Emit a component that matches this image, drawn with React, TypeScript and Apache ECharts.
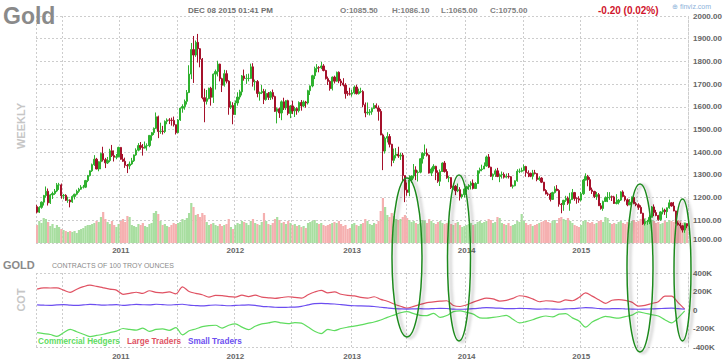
import React, { useEffect, useRef } from "react";
import * as echarts from "echarts";

// ---------- DATA ----------
const START_DATE_UTC = Date.UTC(2010, 3, 12); // first weekly bar (Mon Apr 12 2010)
const FIRST_OPEN = 1160;

// weekly closes Apr 2010 .. Dec 2015
const closes = [
  // 2010
  1136,1157,1180,1209,1228,1177,1212,1218,1229,1256,1256,1208,1210,1188,1189,1181,1205,1215,1228,1237,
  1246,1246,1275,1297,1318,1345,1369,1326,1358,1394,1367,1353,1363,1406,1385,1378,1380,1421,
  // 2011
  1369,1360,1342,1340,1348,1362,1388,1409,1429,1421,1418,1428,1429,1474,1486,1505,1556,1491,1493,1491,
  1536,1542,1541,1540,1521,1486,1542,1594,1601,1624,1663,1744,1852,1828,1884,1856,1810,1640,1624,1636,
  1682,1642,1744,1755,1788,1724,1695,1746,1713,1598,1606,1566,
  // 2012
  1617,1643,1666,1736,1725,1725,1725,1776,1710,1711,1659,1662,1668,1632,1659,1642,1663,1645,1580,1591,
  1573,1622,1595,1627,1571,1604,1582,1592,1583,1619,1604,1621,1617,1671,1692,1737,1769,1773,1772,1780,
  1760,1724,1712,1680,1731,1713,1752,1714,1705,1696,1658,1657,1656,
  // 2013
  1662,1687,1658,1667,1667,1609,1573,1576,1578,1592,1606,1595,1580,1476,1405,1462,1469,1435,1364,1386,
  1392,1383,1387,1297,1234,1223,1278,1295,1322,1310,1312,1371,1395,1396,1387,1308,1326,1338,1310,1272,
  1315,1352,1315,1287,1288,1244,1250,1230,1235,1204,1213,1238,
  // 2014
  1248,1254,1264,1240,1262,1318,1324,1326,1339,1379,1334,1294,1303,1318,1293,1300,1302,1290,1293,1292,
  1250,1252,1274,1316,1316,1320,1337,1310,1307,1294,1309,1306,1280,1286,1268,1231,1216,1215,1192,1222,
  1238,1231,1171,1169,1188,1197,1175,1191,1222,1196,1195,1189,
  // 2015
  1217,1277,1293,1279,1234,1227,1205,1213,1164,1152,1183,1199,1201,1204,1203,1174,1179,1189,1225,1205,
  1190,1168,1180,1201,1173,1168,1157,1131,1085,1094,1094,1113,1159,1134,1121,1103,1137,1145,1138,1155,
  1177,1163,1141,1088,1081,1076,1057,1085.5,1075,
];

const highs = [
  1168,1162,1183,1212,1249,1240,1216,1226,1238,1264,1265,1262,1216,1215,1204,1192,1210,1217,1235,1243,
  1255,1256,1278,1300,1320,1350,1387,1375,1360,1398,1424,1375,1379,1415,1432,1408,1392,1424,
  1423,1392,1376,1348,1359,1375,1390,1417,1440,1445,1436,1447,1439,1475,1489,1509,1575,1561,1530,1516,
  1540,1549,1550,1552,1557,1522,1546,1597,1611,1632,1674,1783,1881,1912,1892,1921,1859,1815,1680,1674,
  1684,1688,1747,1764,1803,1790,1728,1763,1761,1717,1624,1620,
  1628,1664,1675,1740,1764,1744,1746,1790,1792,1720,1718,1667,1696,1679,1677,1665,1669,1676,1649,1597,
  1597,1628,1640,1630,1631,1607,1627,1600,1598,1624,1630,1628,1626,1675,1694,1741,1777,1788,1779,1798,
  1788,1763,1733,1717,1734,1737,1755,1756,1723,1726,1704,1670,1684,
  1675,1694,1697,1680,1684,1673,1619,1619,1590,1597,1616,1615,1606,1590,1482,1469,1488,1480,1437,1416,
  1418,1424,1397,1397,1298,1267,1298,1298,1348,1338,1320,1373,1400,1434,1416,1390,1333,1347,1340,1320,
  1324,1355,1361,1325,1295,1290,1262,1255,1262,1246,1217,1240,
  1252,1259,1272,1280,1268,1320,1332,1345,1355,1385,1392,1336,1306,1327,1331,1306,1315,1311,1306,1308,
  1295,1257,1276,1325,1328,1332,1346,1340,1320,1310,1322,1322,1307,1294,1290,1269,1237,1223,1221,1226,
  1250,1255,1237,1176,1190,1208,1205,1221,1238,1225,1201,1206,
  1225,1282,1307,1300,1290,1244,1230,1225,1220,1176,1187,1205,1224,1224,1209,1208,1215,1194,1228,1232,
  1210,1196,1194,1205,1207,1180,1175,1166,1133,1105,1102,1125,1163,1170,1146,1124,1140,1156,1151,1156,
  1191,1179,1181,1142,1096,1089,1078,1088,1086.1,
];

const lows = [
  1131,1132,1151,1165,1200,1165,1172,1194,1212,1224,1234,1195,1193,1185,1177,1157,1177,1192,1210,1221,
  1234,1240,1242,1268,1293,1313,1340,1325,1316,1325,1359,1330,1348,1356,1379,1359,1369,1378,
  1367,1357,1331,1308,1325,1344,1357,1384,1404,1411,1385,1416,1407,1422,1451,1476,1502,1462,1481,1478,
  1484,1523,1524,1517,1513,1478,1483,1538,1574,1587,1610,1660,1722,1705,1820,1795,1774,1633,1532,1610,
  1633,1605,1617,1676,1734,1712,1665,1689,1703,1565,1590,1523,
  1565,1605,1632,1650,1715,1701,1712,1723,1689,1672,1642,1627,1656,1612,1627,1630,1630,1633,1577,1527,
  1551,1541,1586,1586,1563,1550,1568,1555,1565,1575,1583,1598,1596,1610,1652,1686,1722,1752,1752,1766,
  1756,1720,1696,1671,1672,1703,1710,1704,1691,1690,1636,1648,1650,
  1645,1655,1654,1654,1660,1598,1554,1565,1562,1565,1591,1593,1539,1475,1321,1394,1443,1421,1338,1352,
  1373,1375,1366,1270,1180,1208,1206,1265,1284,1277,1271,1307,1350,1384,1381,1306,1295,1315,1277,1265,
  1251,1313,1310,1283,1268,1238,1234,1211,1224,1187,1196,1200,
  1222,1234,1236,1236,1239,1260,1306,1316,1329,1336,1330,1291,1277,1291,1290,1268,1284,1284,1285,1284,
  1248,1240,1250,1270,1308,1311,1316,1292,1290,1290,1280,1302,1272,1274,1264,1228,1214,1207,1183,1190,
  1218,1228,1160,1131,1142,1181,1168,1142,1190,1186,1173,1177,
  1183,1212,1276,1250,1230,1216,1198,1190,1163,1147,1142,1182,1180,1190,1185,1172,1170,1170,1185,1201,
  1183,1162,1170,1175,1171,1162,1146,1129,1080,1077,1080,1083,1112,1118,1118,1098,1098,1126,1124,1110,
  1151,1160,1140,1085,1077,1064,1046,1045,1065,
];

// weekly volume, thousand contracts
const volumes = [
  900,1100,1000,1250,1200,1050,850,950,750,900,800,700,650,600,550,600,550,600,500,650,
  700,750,850,900,900,950,1000,1100,1050,1300,1550,1200,1050,950,1100,900,800,950,
  1100,1200,1050,1350,1300,900,850,800,950,900,1000,850,800,950,1000,1500,1600,1450,1100,900,
  950,850,800,900,1000,950,1000,1050,1200,1150,1250,1500,2000,1800,1400,1450,1300,1500,1400,1050,
  900,950,1000,900,850,950,850,900,950,1200,800,700,
  900,1000,950,1100,1050,1000,900,1100,1200,1000,950,900,1050,1500,1100,950,900,1000,1200,1300,
  1150,1000,1050,950,1100,1000,900,950,850,900,800,850,750,1000,1050,1100,1150,1000,950,1000,
  900,850,900,950,1000,1050,1000,1100,950,850,900,700,750,
  950,1000,900,850,950,1000,1200,1100,950,900,1000,950,1100,1600,2250,1800,1400,1300,1500,1350,
  1200,1150,1200,1300,1400,1250,1150,1050,1100,1000,950,1000,1150,1100,1000,1200,1100,1000,950,1050,
  1100,1000,950,1000,1100,950,900,1000,1050,900,800,850,
  900,950,1000,900,950,1050,1100,1000,1050,1100,1200,1150,1000,1050,1300,1250,1000,950,900,1000,
  850,900,950,1100,1050,1450,1100,1000,900,950,850,900,950,1000,1050,1100,1150,1050,1000,1100,
  1150,1000,1250,1300,1200,1150,1250,1100,1000,900,850,800,
  900,1100,1150,1050,1000,1050,950,1000,1100,1150,1050,1300,1250,1000,950,1000,950,1050,1100,1000,
  950,1050,1000,1100,1150,1050,1100,1200,1400,1250,1100,1050,1150,1100,1000,1050,950,1000,1100,1050,
  1150,1100,1050,1200,1150,1100,1000,1050,950,
];

// COT net positions (thousand contracts), one reading every 3 weeks
const COT_STEP = 3;
const commercialHedgers = [
  -245,-255,-265,-285,-245,-210,-235,-262,-287,-275,-262,-245,-228,-200,-210,-218,-197,-232,-210,-205,
  -220,-190,-268,-225,-205,-180,-168,-165,-195,-165,-150,-185,-212,-175,-150,-140,-125,-140,-148,-136,
  -142,-185,-230,-255,-210,-222,-200,-186,-175,-161,-145,-130,-108,-80,-55,-30,-18,-40,-58,-60,
  -36,-80,-60,-18,-10,-25,-45,-85,-88,-80,-70,-58,-100,-140,-125,-105,-80,-65,-75,-45,
  -40,-85,-120,-186,-130,-95,-68,-80,-88,-72,-55,-20,-35,-50,-65,-105,-140,-85,-10,
];
const largeTraders = [
  225,240,238,240,215,190,225,252,268,255,240,226,215,170,180,192,180,208,190,185,
  195,175,250,200,180,165,140,158,155,145,140,160,145,160,140,132,126,135,143,136,
  128,165,195,212,185,195,170,158,152,136,128,143,115,95,65,40,20,40,60,80,
  88,95,100,48,38,55,85,110,128,120,97,105,125,154,145,120,89,100,95,85,
  110,100,135,185,150,110,72,105,112,105,85,42,50,70,90,150,150,80,10,
];
const smallTraders = [
  55,52,50,55,58,52,50,55,60,57,52,55,58,50,55,60,57,55,62,58,
  54,58,62,52,48,45,50,54,50,46,50,52,55,50,40,35,30,28,30,32,
  40,55,68,72,68,65,58,50,46,45,42,38,30,22,15,12,10,12,14,12,
  15,18,16,10,8,10,14,20,26,24,20,15,14,18,16,12,10,12,10,8,
  12,15,20,25,22,16,12,14,15,12,10,8,10,12,14,18,20,14,10,
];

const HEADER = {
  title: "Gold",
  stamp: "DEC 08 2015 01:41 PM",
  ohlc: ["O:1085.50", "H:1086.10", "L:1065.00", "C:1075.00"],
  change: "-0.20 (0.02%)",
};

// ---------- STYLE ----------
const FONT = "'Liberation Sans', Arial, Helvetica, sans-serif";
const UP = "#2fb12f";
const DOWN = "#a5112b";
const UP_VOL = "#a8dea0";
const DOWN_VOL = "#f5b0b0";
const GRID_C = "#cdcdcd";
const C_GREEN = "#5fdc5f";
const C_RED = "#e05263";
const C_PURPLE = "#6c4ef0";

const weeks = closes.map((_, i) =>
  new Date(START_DATE_UTC + i * 7 * 86400000).toISOString().slice(0, 10)
);
const isYearStart = (v: any) =>
  typeof v === "string" && v.slice(5, 7) === "01" && Number(v.slice(8, 10)) <= 7;
const isHalfStart = (v: any) =>
  typeof v === "string" &&
  (v.slice(5, 7) === "01" || v.slice(5, 7) === "07") &&
  Number(v.slice(8, 10)) <= 7;

export default function App() {
  const ref = useRef<HTMLDivElement>(null);

  useEffect(() => {
    if (!ref.current) return;
    const chart = echarts.init(ref.current, null, { renderer: "svg" });

    const opens = closes.map((c, i) => (i === 0 ? FIRST_OPEN : closes[i - 1]));
    const candles = closes.map((c, i) => [opens[i], c, lows[i], highs[i]]);
    const vol = volumes.map((v, i) => ({
      value: v,
      itemStyle: { color: closes[i] >= opens[i] ? UP_VOL : DOWN_VOL },
    }));
    const cot = (arr: number[]) => arr.map((v, k) => [k * COT_STEP, v]);
    const last = closes[closes.length - 1];

    const dotted = { color: GRID_C, type: [2, 2] as any, width: 1 };

    const xCommon = (labelMargin: number) => ({
      type: "category" as const,
      data: weeks,
      boundaryGap: true,
      axisLine: { show: false },
      axisTick: { show: false },
      axisLabel: {
        interval: (i: number, v: string) => isYearStart(v) && v.slice(0, 4) !== "2010",
        formatter: (v: string) => v.slice(0, 4),
        color: "#666",
        fontSize: 8,
        fontWeight: "bold",
        fontFamily: FONT,
        margin: labelMargin,
      },
      splitLine: {
        show: true,
        interval: (i: number, v: string) => i === 0 || isHalfStart(v),
        lineStyle: dotted,
      },
    });

    const textEl = (text: string, x: number, y: number, o: any = {}) => ({
      type: "text",
      x,
      y,
      rotation: o.rotation || 0,
      z: 50,
      style: {
        text,
        fill: o.fill || "#777",
        fontSize: o.fontSize || 8,
        fontWeight: o.fontWeight || "bold",
        fontFamily: FONT,
        align: o.align || "left",
        verticalAlign: "middle",
      },
    });

    const ell = (cx: number, cy: number, rx: number, ry: number) => ({
      type: "ellipse",
      z: 100,
      shape: { cx, cy, rx, ry },
      style: {
        fill: "none",
        stroke: "#1f8a1f",
        lineWidth: 1.5,
        shadowColor: "rgba(0,0,0,0.3)",
        shadowBlur: 3,
        shadowOffsetX: 3,
        shadowOffsetY: 1,
      },
    });

    chart.setOption({
      animation: false,
      backgroundColor: "#ffffff",
      grid: [
        { left: 36, right: 37, top: 16, height: 227 },
        { left: 36, right: 37, top: 273, height: 74 },
      ],
      xAxis: [
        { gridIndex: 0, ...xCommon(3) },
        { gridIndex: 1, ...xCommon(5) },
      ],
      yAxis: [
        {
          gridIndex: 0,
          type: "value",
          position: "right",
          min: 1000,
          max: 2000,
          interval: 100,
          axisLine: { show: true, lineStyle: dotted },
          axisTick: { show: false },
          splitLine: { show: true, lineStyle: dotted },
          axisLabel: {
            formatter: (v: number) => v.toFixed(2),
            color: "#666",
            fontSize: 8,
            fontWeight: "bold",
            fontFamily: FONT,
            margin: 5,
            verticalAlignMinLabel: "bottom",
          },
        },
        {
          gridIndex: 0,
          type: "value",
          min: 0,
          max: 11350,
          show: false,
          splitLine: { show: false },
        },
        {
          gridIndex: 1,
          type: "value",
          position: "right",
          min: -400,
          max: 400,
          interval: 200,
          axisLine: { show: true, lineStyle: dotted },
          axisTick: { show: false },
          splitLine: {
            show: true,
            lineStyle: {
              type: [2, 2],
              width: 1,
              color: [GRID_C, "rgba(0,0,0,0)", "rgba(0,0,0,0)", "rgba(0,0,0,0)", GRID_C],
            },
          },
          axisLabel: {
            formatter: (v: number) => (v === 0 ? "0" : v + "K"),
            color: "#666",
            fontSize: 8,
            fontWeight: "bold",
            fontFamily: FONT,
            margin: 5,
          },
        },
      ],
      series: [
        {
          type: "bar",
          xAxisIndex: 0,
          yAxisIndex: 1,
          data: vol,
          barCategoryGap: "0%",
          silent: true,
          z: 1,
        },
        {
          type: "candlestick",
          xAxisIndex: 0,
          yAxisIndex: 0,
          data: candles,
          barWidth: "80%",
          z: 3,
          itemStyle: {
            color: UP,
            color0: DOWN,
            borderColor: UP,
            borderColor0: DOWN,
            borderWidth: 1,
          },
          markLine: {
            silent: true,
            symbol: "none",
            lineStyle: { width: 0, opacity: 0 },
            label: {
              show: true,
              position: "end",
              distance: 3,
              formatter: () => last.toFixed(2),
              backgroundColor: "#f3f300",
              color: "#333",
              fontSize: 8,
              fontWeight: "bold",
              fontFamily: FONT,
              padding: [2, 2, 1, 2],
            },
            data: [{ yAxis: last }],
          },
        },
        {
          name: "Commercial Hedgers",
          type: "line",
          xAxisIndex: 1,
          yAxisIndex: 2,
          data: cot(commercialHedgers),
          showSymbol: false,
          smooth: 0.3,
          lineStyle: { color: C_GREEN, width: 1.2 },
        },
        {
          name: "Large Traders",
          type: "line",
          xAxisIndex: 1,
          yAxisIndex: 2,
          data: cot(largeTraders),
          showSymbol: false,
          smooth: 0.3,
          lineStyle: { color: C_RED, width: 1.2 },
        },
        {
          name: "Small Traders",
          type: "line",
          xAxisIndex: 1,
          yAxisIndex: 2,
          data: cot(smallTraders),
          showSymbol: false,
          smooth: 0.3,
          lineStyle: { color: C_PURPLE, width: 1.2 },
        },
      ],
      graphic: [
        textEl(HEADER.title, 3, 16, { fontSize: 23, fill: "#8a8a8a" }),
        textEl(HEADER.stamp, 188, 10, { fontSize: 8, fill: "#707070" }),
        textEl(HEADER.ohlc[0], 340, 10, { fill: "#808080" }),
        textEl(HEADER.ohlc[1], 392, 10, { fill: "#808080" }),
        textEl(HEADER.ohlc[2], 441, 10, { fill: "#808080" }),
        textEl(HEADER.ohlc[3], 490, 10, { fill: "#808080" }),
        textEl(HEADER.change, 598, 10, { fontSize: 10, fill: "#d0142c" }),
        textEl("\u2295 finviz.com", 672, 6, { fontSize: 7, fontWeight: "normal", fill: "#8cb2da" }),
        textEl("WEEKLY", 21, 126, { fontSize: 11, fill: "#c6c6c6", align: "center", rotation: Math.PI / 2 }),
        textEl("COT", 21, 300, { fontSize: 11, fill: "#c6c6c6", align: "center", rotation: Math.PI / 2 }),
        textEl("GOLD", 3, 265, { fontSize: 11, fill: "#8a8a8a" }),
        textEl("CONTRACTS OF 100 TROY OUNCES", 52, 265.5, { fontSize: 7, fontWeight: "normal", fill: "#8a8a8a" }),
        textEl("Commercial Hedgers", 38, 341, { fontSize: 8.2, fill: C_GREEN }),
        textEl("Large Traders", 127, 341, { fontSize: 8.2, fill: C_RED }),
        textEl("Small Traders", 188, 341, { fontSize: 8.2, fill: C_PURPLE }),
        ell(407, 257.5, 15, 79.5),
        ell(459, 258, 11.5, 83),
        ell(640, 268, 13, 84),
        ell(682.5, 270, 8.5, 71),
      ],
    });

    return () => chart.dispose();
  }, []);

  return (
    <div
      ref={ref}
      style={{ position: "fixed", left: 0, top: 0, width: 725, height: 364, background: "#fff" }}
    />
  );
}
